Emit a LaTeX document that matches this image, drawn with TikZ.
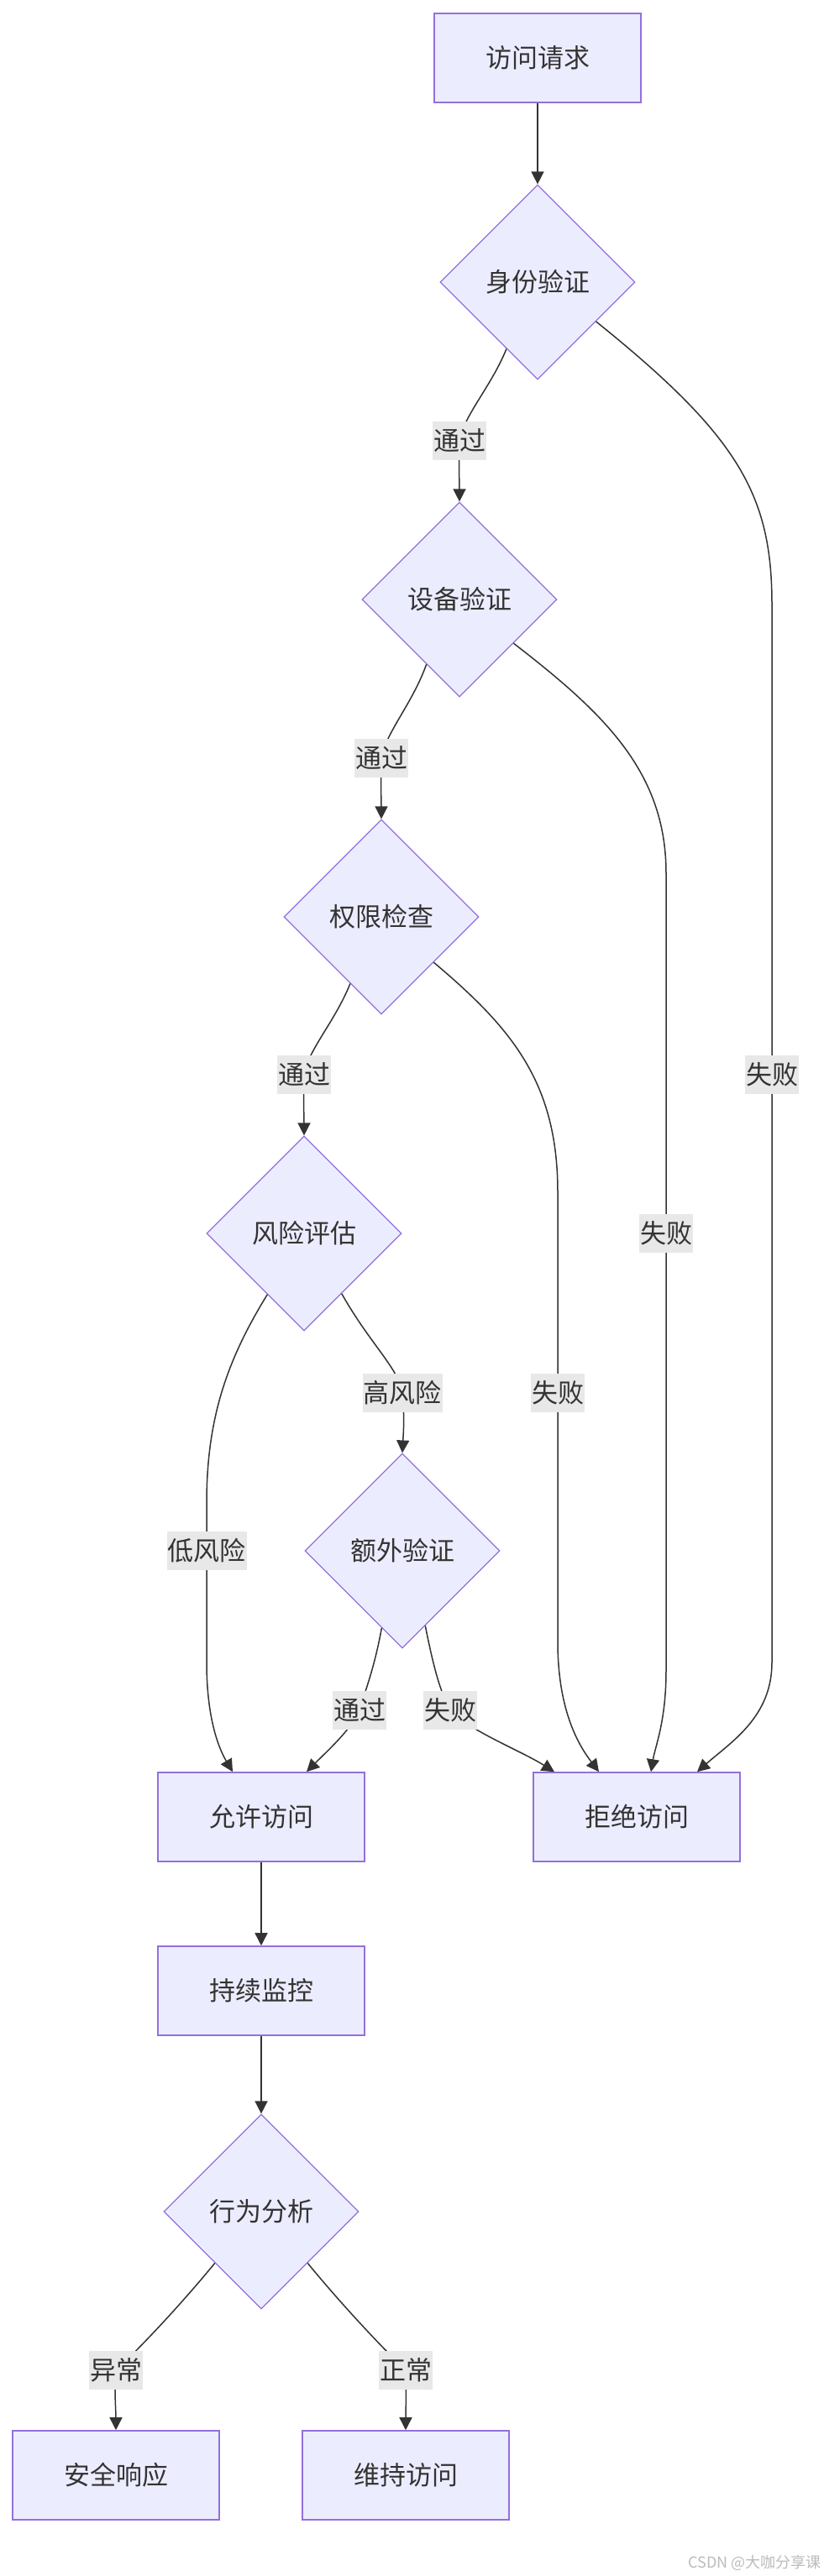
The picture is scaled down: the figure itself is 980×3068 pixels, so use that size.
\documentclass[tikz,border=0pt]{standalone}
\usepackage{fontspec}
\setmainfont{Noto Sans CJK SC}
\usetikzlibrary{shapes.geometric,arrows.meta,calc,positioning}
\definecolor{colorNode}{HTML}{ECECFF}
\definecolor{colorBorder}{HTML}{9370DB}
\definecolor{colorEdge}{HTML}{333333}
\definecolor{colorLabel}{HTML}{E8E8E8}
\definecolor{colorMark}{HTML}{BBBBBB}
\newcommand{\nodefont}{\fontsize{15.5}{18}\selectfont}
\tikzset{
   every path/.style={>={Triangle[length=7.5pt,width=7.5pt]}},
   proc/.style={rectangle,draw=colorBorder,fill=colorNode,line width=0.8pt,minimum width=123pt,minimum height=53pt,text=colorEdge,font=\nodefont},
   dec/.style={diamond,aspect=1,draw=colorBorder,fill=colorNode,line width=0.6pt,minimum size=116pt,inner sep=0pt,text=colorEdge,font=\nodefont},
   flow/.style={->,draw=colorEdge,line width=0.75pt},
   elab/.style={rectangle,fill=colorLabel,text=colorEdge,inner xsep=0.5pt,inner ysep=0pt,minimum height=23pt,font=\nodefont},
   wmark/.style={text=colorMark,inner sep=0pt,font=\fontsize{9}{10}\selectfont},
}

\begin{document}
\begin{tikzpicture}[x=0.5pt,y=-0.5pt]
        \fill[white] (0,0) rectangle (980,3068);
        \useasboundingbox (0,0) rectangle (980,3068);

        \node[proc] (req)   at (640,69)   {访问请求};
        \node[dec]  (idv)   at (640,336)  {身份验证};
        \node[dec]  (dev)   at (547,714)  {设备验证};
        \node[dec]  (perm)  at (454,1092) {权限检查};
        \node[dec]  (risk)  at (362,1469) {风险评估};
        \node[dec]  (extra) at (479,1847) {额外验证};
        \node[proc] (allow) at (311,2164) {允许访问};
        \node[proc] (deny)  at (758,2164) {拒绝访问};
        \node[proc] (mon)   at (311,2371) {持续监控};
        \node[dec]  (beh)   at (311,2634) {行为分析};
        \node[proc] (resp)  at (138,2948) {安全响应};
        \node[proc] (keep)  at (483,2948) {维持访问};

        \coordinate (lidv)  at (547,525);
        \coordinate (ldev)  at (454,903);
        \coordinate (lperm) at (362,1280);
        \coordinate (fidv)  at (919,1280);
        \coordinate (fdev)  at (793,1469);
        \coordinate (fperm) at (664,1659);
        \coordinate (lhigh) at (479,1659);
        \coordinate (llow)  at (246,1847);
        \coordinate (lext)  at (428,2037);
        \coordinate (fext)  at (536,2037);
        \coordinate (labn)  at (138,2823);
        \coordinate (lnor)  at (483,2823);

        \draw[flow] (req) -- (idv);
        \draw[flow] (idv.-115) .. controls (585,460) and (552,495) .. (lidv) .. controls (546,555) and (547,575) .. (dev.north);
        \draw[flow] (dev.-117) .. controls (491,838) and (459,873) .. (ldev) .. controls (453,933) and (454,953) .. (perm.north);
        \draw[flow] (perm.-115) .. controls (398,1218) and (367,1250) .. (lperm) .. controls (361,1310) and (362,1330) .. (risk.north);
        \draw[flow] (idv.-34) .. controls (880,520) and (919,590) .. (919,720) -- (fidv) -- (919,1980) .. controls (919,2045) and (870,2075) .. ($(deny.north)+(72,0)$);
        \draw[flow] (dev.-39) .. controls (720,850) and (793,920) .. (793,1040) -- (fdev) -- (793,1990) .. controls (793,2050) and (780,2080) .. ($(deny.north)+(17,0)$);
        \draw[flow] (perm.-41) .. controls (610,1225) and (664,1290) .. (664,1420) -- (fperm) -- (664,1960) .. controls (665,2040) and (690,2080) .. ($(deny.north)+(-45,0)$);
        \draw[flow] (risk.-58) .. controls (440,1600) and (475,1630) .. (lhigh) .. controls (482,1690) and (480,1710) .. (extra.north);
        \draw[flow] (risk.-121) .. controls (270,1620) and (246,1690) .. (246,1790) -- (llow) -- (246,1980) .. controls (246,2050) and (262,2085) .. ($(allow.north)+(-34,0)$);
        \draw[flow] (extra.-105) .. controls (446,1985) and (436,2010) .. (lext) .. controls (418,2060) and (390,2085) .. ($(allow.north)+(54,0)$);
        \draw[flow] (extra.-73) .. controls (516,1985) and (524,2015) .. (fext) .. controls (560,2062) and (620,2085) .. ($(deny.north)+(-98,0)$);
        \draw[flow] (allow) -- (mon);
        \draw[flow] (mon) -- (beh);
        \draw[flow] (beh.-132) .. controls (215,2745) and (168,2795) .. (labn) .. controls (136,2850) and (138,2870) .. (resp.north);
        \draw[flow] (beh.-48) .. controls (407,2745) and (454,2795) .. (lnor) .. controls (484,2850) and (483,2870) .. (keep.north);

        \node[elab] (tidv)  at (lidv)  {通过};
        \node[elab] (tdev)  at (ldev)  {通过};
        \node[elab] (tperm) at (lperm) {通过};
        \node[elab] (tfidv) at (fidv)  {失败};
        \node[elab] (tfdev) at (fdev)  {失败};
        \node[elab] (tfprm) at (fperm) {失败};
        \node[elab] (thigh) at (lhigh) {高风险};
        \node[elab] (tlow)  at (llow)  {低风险};
        \node[elab] (text)  at (lext)  {通过};
        \node[elab] (tfext) at (fext)  {失败};
        \node[elab] (tabn)  at (labn)  {异常};
        \node[elab] (tnor)  at (lnor)  {正常};

        \node[wmark,anchor=south east] (wm) at (978,3062) {CSDN @大咖分享课};
    \end{tikzpicture}
\end{document}
